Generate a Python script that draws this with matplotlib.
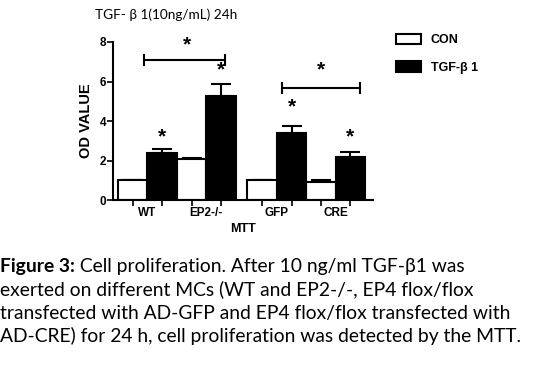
import matplotlib
matplotlib.use('Agg')
import matplotlib.pyplot as plt
from matplotlib.patches import Patch
import numpy as np

# data
groups = ['WT', 'EP2-/-', 'GFP', 'CRE']
con_vals = [1.0, 2.08, 1.0, 0.93]
con_err = [0.0, 0.07, 0.0, 0.1]
tgf_vals = [2.38, 5.28, 3.37, 2.2]
tgf_err = [0.2, 0.58, 0.38, 0.22]

plt.rcParams['font.family'] = ['Liberation Sans', 'DejaVu Sans']

fig = plt.figure(figsize=(5.39, 3.73), dpi=100)
ax = fig.add_axes([0.2097, 0.4638, 0.4824, 0.4236])

w = 1.0
gap = 0.4
con_x = np.array([0, 2, 4 + gap, 6 + gap])
tgf_x = con_x + w

ax.bar(con_x, con_vals, width=w, color='white', edgecolor='black', linewidth=1.5, zorder=2)
ax.bar(tgf_x, tgf_vals, width=w, color='black', edgecolor='black', linewidth=1.5, zorder=2)
ax.errorbar(con_x, con_vals, yerr=[np.zeros(4), con_err], fmt='none', ecolor='black',
            elinewidth=1.5, capsize=7, capthick=1.5, zorder=1)
ax.errorbar(tgf_x, tgf_vals, yerr=[np.zeros(4), tgf_err], fmt='none', ecolor='black',
            elinewidth=1.5, capsize=7, capthick=1.5, zorder=1)

ax.set_xlim(-0.67, 8.17)
ax.set_ylim(0, 8)
ax.set_yticks([0, 2, 4, 6, 8])
ax.set_yticklabels(['0', '2', '4', '6', '8'], fontweight='bold', fontsize=8.5)

# bar-centre ticks, labels between pairs
ax.set_xticks(np.concatenate([con_x, tgf_x]), minor=True)
ax.set_xticks(con_x + w / 2)
ax.set_xticklabels(groups, fontweight='bold', fontsize=8.5)
ax.tick_params(axis='x', which='major', length=0, pad=5)
ax.tick_params(axis='x', which='minor', length=4, width=1.2, direction='out')
ax.tick_params(axis='y', length=4, width=1.2, pad=1)

for s in ['top', 'right']:
    ax.spines[s].set_visible(False)
for s in ['left', 'bottom']:
    ax.spines[s].set_linewidth(1.5)

ax.set_ylabel('OD VALUE', fontweight='bold', fontsize=10.5, labelpad=5)
ax.set_xlabel('MTT', fontweight='bold', fontsize=9, labelpad=3)

# significance marks
def bracket(x0, x1, y, h=0.25):
    ax.plot([x0, x0, x1, x1], [y - h, y, y, y - h], color='black', lw=1.5, clip_on=False)
    ax.plot([x0, x0], [y, y + h], color='black', lw=1.5, clip_on=False)
    ax.plot([x1, x1], [y, y + h], color='black', lw=1.5, clip_on=False)

bracket(0.38, 3.13, 7.09)
bracket(5.09, 7.74, 5.67)
star_x = [1.85, 6.4, tgf_x[0], tgf_x[1], tgf_x[2], tgf_x[3]]
star_y = [7.35, 6.1, 2.7, 6.1, 4.25, 2.7]
for sx, sy in zip(star_x, star_y):
    ax.text(sx, sy, '*', ha='center', va='bottom', fontsize=15, fontweight='bold',
            clip_on=False)

fig.text(0.176, 0.945, 'TGF- β 1(10ng/mL) 24h', fontsize=9.8,
         family=['Lato', 'DejaVu Sans'], va='bottom')

handles = [Patch(facecolor='white', edgecolor='black', linewidth=1.5),
           Patch(facecolor='black', edgecolor='black', linewidth=1.5)]
fig.legend(handles, ['CON', 'TGF-β 1'], loc='upper left', bbox_to_anchor=(0.713, 0.94),
           frameon=False, prop={'weight': 'bold', 'size': 9}, handlelength=2.0,
           handleheight=0.9, labelspacing=1.2, handletextpad=0.8)

# caption
cap_font = ['Lato', 'DejaVu Sans']
cap_size = 13.9
cap_y = 0.262
t = fig.text(0.0, cap_y, 'Figure 3:', fontsize=cap_size, fontweight='bold', family=cap_font,
             va='bottom')
plt.annotate(' Cell proliferation. After 10 ng/ml TGF-β1 was', xy=(1, 0), xycoords=t,
             fontsize=cap_size, family=cap_font, va='bottom')
rest = ['exerted on different MCs (WT and EP2-/-, EP4 flox/flox',
        'transfected with AD-GFP and EP4 flox/flox transfected with',
        'AD-CRE) for 24 h, cell proliferation was detected by the MTT.']
for i, line in enumerate(rest):
    fig.text(0.0, cap_y - (i + 1) * 0.0625, line, fontsize=cap_size, family=cap_font, va='bottom')

fig.savefig('out.png', dpi=100)
